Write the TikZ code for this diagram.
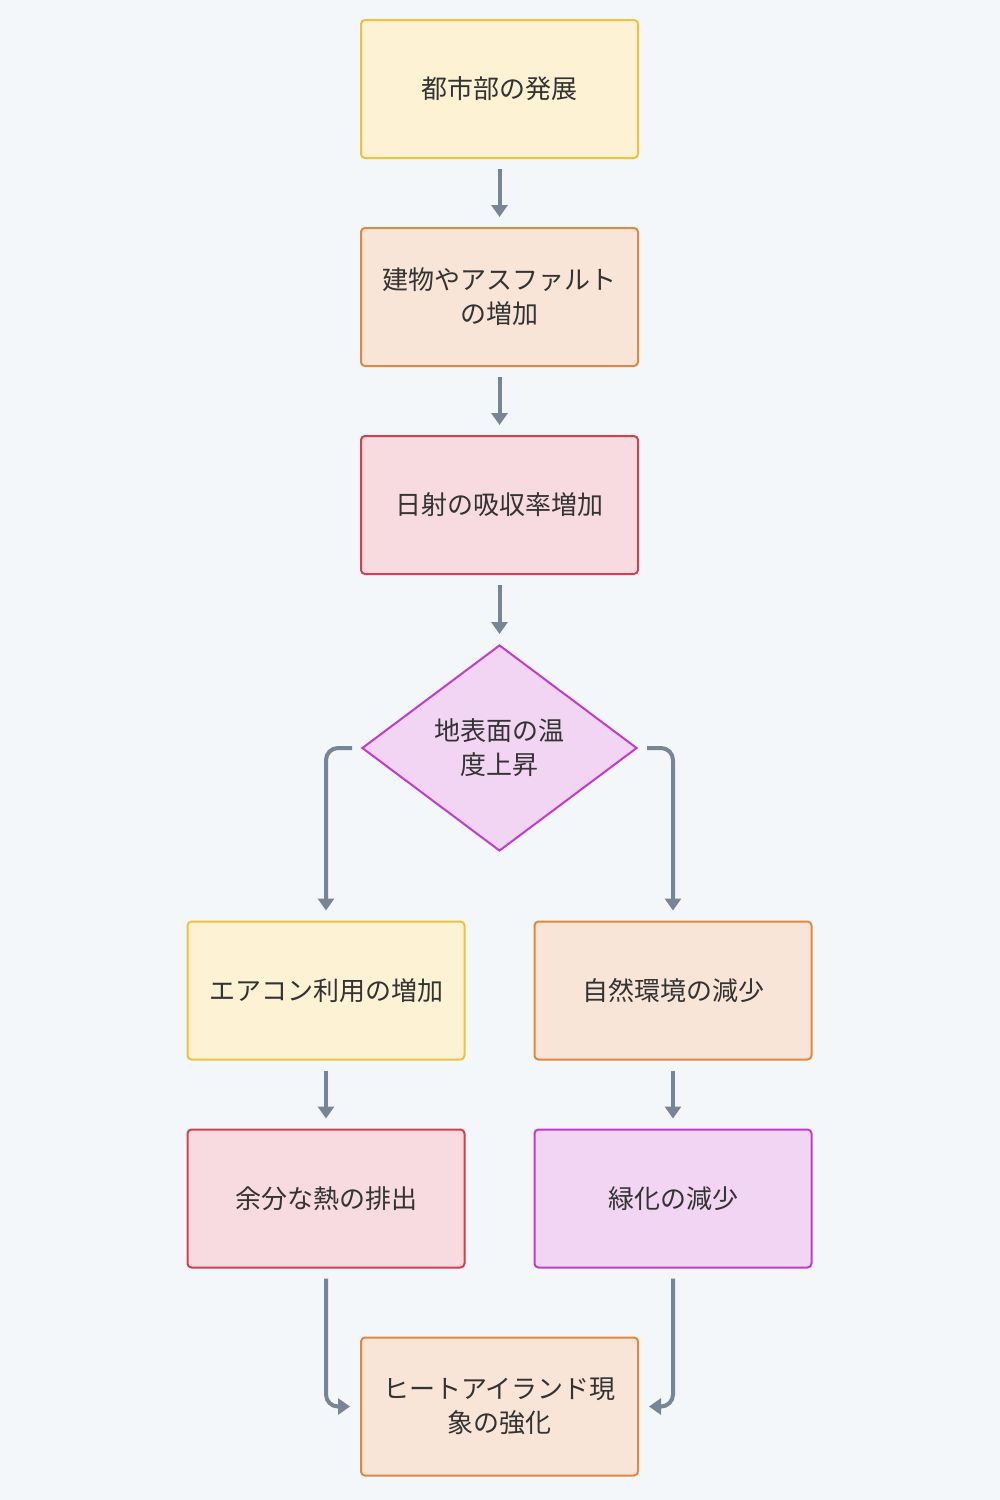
\documentclass[tikz,border=0pt]{standalone}
\usepackage{fontspec}
\setmainfont{Noto Sans CJK JP}
\usetikzlibrary{arrows.meta,shapes.geometric}
\definecolor{bg}{HTML}{F4F7FA}
\definecolor{yfill}{HTML}{FDF2D4}
\definecolor{ydraw}{HTML}{F0C23C}
\definecolor{ofill}{HTML}{F9E5D8}
\definecolor{odraw}{HTML}{E2873E}
\definecolor{rfill}{HTML}{F8DBE0}
\definecolor{rdraw}{HTML}{D2404F}
\definecolor{pfill}{HTML}{F1D5F3}
\definecolor{pdraw}{HTML}{C23BCC}
\definecolor{txt}{HTML}{333333}
\definecolor{edge}{HTML}{788596}
\tikzset{
  base/.style={rectangle, rounded corners=2pt, line width=1pt, minimum width=138.5pt, minimum height=69pt, inner sep=0pt, align=center, text=txt, font=\fontsize{13pt}{17pt}\selectfont},
  ybox/.style={base, fill=yfill, draw=ydraw},
  obox/.style={base, fill=ofill, draw=odraw},
  rbox/.style={base, fill=rfill, draw=rdraw},
  pbox/.style={base, fill=pfill, draw=pdraw},
  dia/.style={diamond, aspect=1.335, minimum width=137.5pt, minimum height=103pt, inner sep=0pt, line width=1pt, fill=pfill, draw=pdraw, align=center, text=txt, font=\fontsize{13pt}{17pt}\selectfont},
  arr/.style={draw=edge, line width=2pt, rounded corners=6pt, -{Triangle[length=6pt,width=8pt]}}
}
\begin{document}
\begin{tikzpicture}[x=0.5pt,y=-0.5pt]
\fill[bg] (0,0) rectangle (1000,1500);
\useasboundingbox (0,0) rectangle (1000,1500);
\node[ybox] (A) at (499.5,89) {都市部の発展};
\node[obox] (B) at (499.5,297) {建物やアスファルト\\の増加};
\node[rbox] (C) at (499.5,505) {日射の吸収率増加};
\node[dia] (D) at (499.5,748) {地表面の温\\度上昇};
\node[ybox] (E) at (326,990.5) {エアコン利用の増加};
\node[obox] (F) at (673,990.5) {自然環境の減少};
\node[rbox] (G) at (326,1198.5) {余分な熱の排出};
\node[pbox] (H) at (673,1198.5) {緑化の減少};
\node[obox] (I) at (499.5,1406.5) {ヒートアイランド現\\象の強化};
\draw[arr] ([yshift=-5pt]A.south) -- ([yshift=5pt]B.north);
\draw[arr] ([yshift=-5pt]B.south) -- ([yshift=5pt]C.north);
\draw[arr] ([yshift=-5pt]C.south) -- ([yshift=5pt]D.north);
\draw[arr] ([xshift=-4.5pt]D.west) -| ([yshift=5pt]E.north);
\draw[arr] ([xshift=4.5pt]D.east) -| ([yshift=5pt]F.north);
\draw[arr] ([yshift=-5pt]E.south) -- ([yshift=5pt]G.north);
\draw[arr] ([yshift=-5pt]F.south) -- ([yshift=5pt]H.north);
\draw[arr] ([yshift=-5pt]G.south) |- ([xshift=-5pt]I.west);
\draw[arr] ([yshift=-5pt]H.south) |- ([xshift=5pt]I.east);
\end{tikzpicture}
\end{document}
